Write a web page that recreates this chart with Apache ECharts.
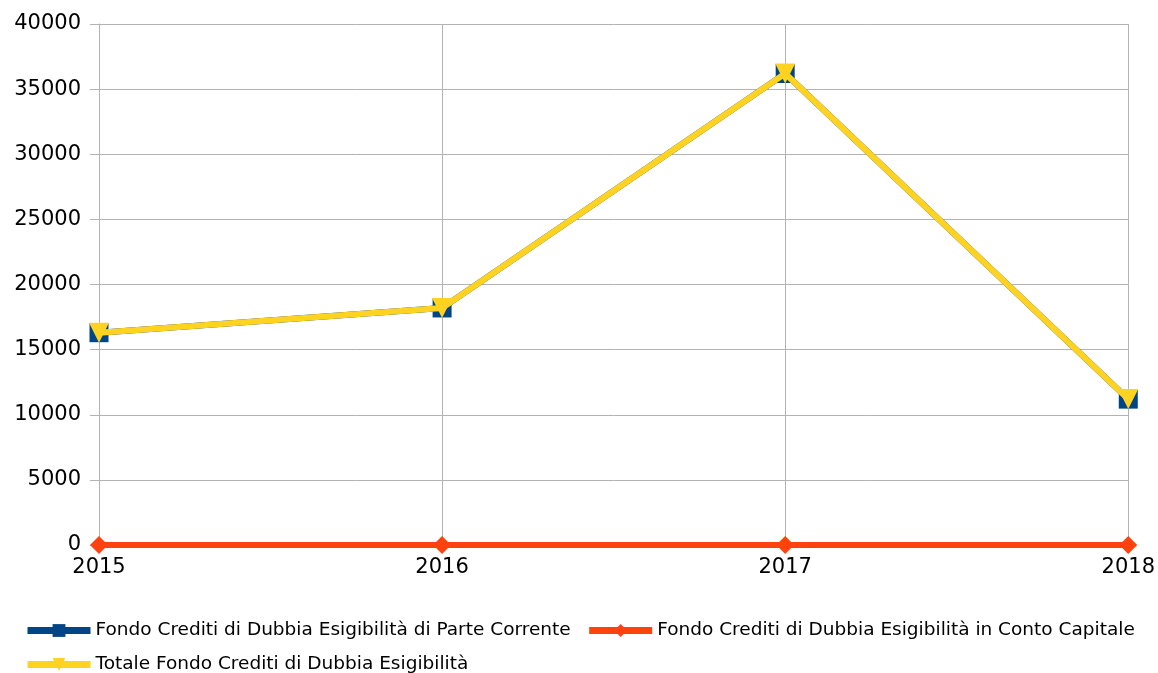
<!DOCTYPE html>
<html>
<head>
<meta charset="utf-8">
<script src="https://cdn.jsdelivr.net/npm/echarts@6/dist/echarts.min.js"></script>
<style>
  html, body { margin: 0; padding: 0; background: #fff; }
  #chart { width: 1158px; height: 673px; }
</style>
</head>
<body>
<div id="chart"></div>
<script>
const years = ['2015', '2016', '2017', '2018'];
const parteCorrente = [16300, 18200, 36200, 11200];
const contoCapitale = [0, 0, 0, 0];
const totale = [16300, 18200, 36200, 11200];

const seriesNames = [
  'Fondo Crediti di Dubbia Esigibilità di Parte Corrente',
  'Fondo Crediti di Dubbia Esigibilità in Conto Capitale',
  'Totale Fondo Crediti di Dubbia Esigibilità'
];

const chart = echarts.init(document.getElementById('chart'));
const font = '"DejaVu Sans", sans-serif';
const triangleDown = 'path://M0,0 L10,0 L5,10 Z';

chart.setOption({
  animation: false,
  textStyle: { fontFamily: font },
  grid: { left: 99, right: 28, top: 24, bottom: 128 },
  legend: {
    left: 24,
    top: 621,
    padding: 0,
    width: 1130,
    itemWidth: 63,
    itemHeight: 16,
    itemGap: 15,
    lineStyle: { width: 7 },
    textStyle: { fontSize: 18.5, color: '#000', fontFamily: font },
    data: seriesNames
  },
  xAxis: {
    type: 'category',
    data: years,
    boundaryGap: false,
    axisLine: { show: true, lineStyle: { color: '#b3b3b3', width: 1 } },
    axisTick: { show: false },
    axisLabel: { color: '#000', fontSize: 21, margin: 12, fontFamily: font },
    splitLine: { show: true, lineStyle: { color: '#b3b3b3', width: 1 } }
  },
  yAxis: {
    type: 'value',
    min: 0,
    max: 40000,
    interval: 5000,
    axisLine: { show: true, lineStyle: { color: '#b3b3b3', width: 1 } },
    axisTick: { show: true, length: 9, lineStyle: { color: '#b3b3b3' } },
    axisLabel: { color: '#000', fontSize: 21, margin: 18, fontFamily: font, formatter: v => String(v) },
    splitLine: { show: true, lineStyle: { color: '#b3b3b3', width: 1 } }
  },
  series: [
    {
      name: seriesNames[0],
      type: 'line',
      data: parteCorrente,
      itemStyle: { color: '#004586' },
      lineStyle: { width: 6, color: '#004586' },
      symbol: 'rect',
      symbolSize: 19,
      z: 2
    },
    {
      name: seriesNames[1],
      type: 'line',
      data: contoCapitale,
      itemStyle: { color: '#ff420e' },
      lineStyle: { width: 6, color: '#ff420e' },
      symbol: 'diamond',
      symbolSize: 18,
      z: 3
    },
    {
      name: seriesNames[2],
      type: 'line',
      data: totale,
      itemStyle: { color: '#ffd320' },
      lineStyle: { width: 6, color: '#ffd320' },
      symbol: triangleDown,
      symbolSize: [20, 20],
      z: 4
    }
  ]
});

window.onresize = () => chart.resize();
</script>
</body>
</html>
